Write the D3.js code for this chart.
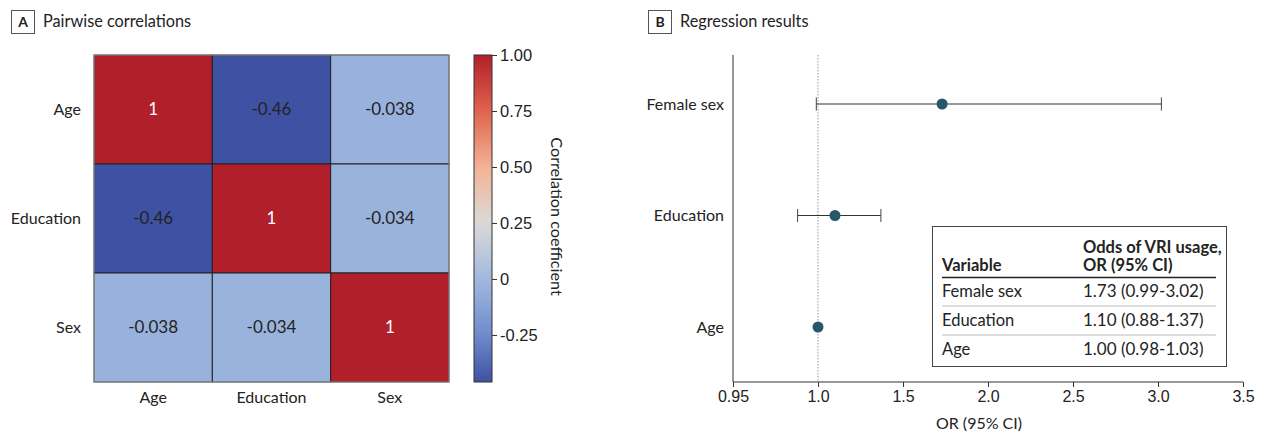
<!DOCTYPE html>
<html>
<head>
<meta charset="utf-8">
<script src="https://cdn.jsdelivr.net/npm/d3@7"></script>
<style>
  body { margin: 0; background: #fff; }
  svg { font-family: Lato, "Open Sans", sans-serif; }
  text { fill: #232323; }
</style>
</head>
<body>
<div id="chart"></div>
<script>
// ---- datos ----
const variables = ["Age", "Education", "Sex"];
const corr = [
  [1, -0.46, -0.038],
  [-0.46, 1, -0.034],
  [-0.038, -0.034, 1]
];
const corrLabels = [
  ["1", "-0.46", "-0.038"],
  ["-0.46", "1", "-0.034"],
  ["-0.038", "-0.034", "1"]
];
const legendTicks = [1, 0.75, 0.5, 0.25, 0, -0.25];
const legendTickLabels = ["1.00", "0.75", "0.50", "0.25", "0", "-0.25"];

const predictors = ["Female sex", "Education", "Age"];
const oddsRatio = [1.73, 1.10, 1.00];
const ciLow = [0.99, 0.88, 0.98];
const ciHigh = [3.02, 1.37, 1.03];
const xTicks = [0.5, 1.0, 1.5, 2.0, 2.5, 3.0, 3.5];
const xTickLabels = ["0.95", "1.0", "1.5", "2.0", "2.5", "3.0", "3.5"];

const W = 1262, H = 434;
const svg = d3.select("#chart").append("svg").attr("width", W).attr("height", H);

// ---- etiquetas de panel ----
function panelTitle(x, letter, title) {
  svg.append("rect").attr("x", x + 0.5).attr("y", 10.5).attr("width", 23).attr("height", 23)
    .attr("fill", "none").attr("stroke", "#555");
  svg.append("text").attr("x", x + 12).attr("y", 27).attr("text-anchor", "middle")
    .attr("font-size", 14).attr("font-weight", "bold").text(letter);
  svg.append("text").attr("x", x + 32).attr("y", 27).attr("font-size", 16.3).text(title);
}
panelTitle(11, "A", "Pairwise correlations");
panelTitle(648, "B", "Regression results");

// ============ A: mapa de calor ============
const hm = { left: 94, right: 449, top: 55, bottom: 382 };
const xb = d3.scaleBand().domain(variables).range([hm.left, hm.right]);
const yb = d3.scaleBand().domain(variables).range([hm.top, hm.bottom]);
const color = d3.scaleLinear()
  .domain([-0.46, -0.25, 0, 0.25, 0.5, 0.75, 1])
  .range(["#3f51a3", "#6f8bcb", "#a1b9e0", "#dcdad8", "#f2b396", "#e0644c", "#b11f2a"])
  .clamp(true);

const cells = [];
variables.forEach((r, i) => variables.forEach((c, j) => cells.push({ r, c, v: corr[i][j], lab: corrLabels[i][j] })));

const gHm = svg.append("g");
gHm.selectAll("rect").data(cells).join("rect")
  .attr("x", d => xb(d.c)).attr("y", d => yb(d.r))
  .attr("width", xb.bandwidth()).attr("height", yb.bandwidth())
  .attr("fill", d => color(d.v)).attr("stroke", "#222").attr("stroke-width", 1);
gHm.selectAll("text").data(cells).join("text")
  .attr("x", d => xb(d.c) + xb.bandwidth() / 2).attr("y", d => yb(d.r) + yb.bandwidth() / 2)
  .attr("dy", "0.35em").attr("text-anchor", "middle").attr("font-size", 17)
  .style("fill", d => d.v > 0.7 ? "#fff" : "#222").text(d => d.lab);
gHm.append("rect").attr("x", hm.left).attr("y", hm.top).attr("width", hm.right - hm.left)
  .attr("height", hm.bottom - hm.top).attr("fill", "none").attr("stroke", "#999").attr("stroke-width", 1);

svg.append("g").selectAll("text").data(variables).join("text")
  .attr("x", 81).attr("y", d => yb(d) + yb.bandwidth() / 2).attr("dy", "0.35em")
  .attr("text-anchor", "end").attr("font-size", 16).text(d => d);
svg.append("g").selectAll("text").data(variables).join("text")
  .attr("x", d => xb(d) + xb.bandwidth() / 2).attr("y", 403)
  .attr("text-anchor", "middle").attr("font-size", 16).text(d => d);

// barra de color
const cb = { x: 474, w: 18, top: 55, bottom: 382 };
const cScale = d3.scaleLinear().domain([-0.46, 1]).range([cb.bottom, cb.top]);
const defs = svg.append("defs");
const grad = defs.append("linearGradient").attr("id", "cbar").attr("x1", 0).attr("y1", 1).attr("x2", 0).attr("y2", 0);
d3.range(0, 1.0001, 0.05).forEach(t => {
  grad.append("stop").attr("offset", t).attr("stop-color", color(-0.46 + t * 1.46));
});
svg.append("rect").attr("x", cb.x).attr("y", cb.top).attr("width", cb.w).attr("height", cb.bottom - cb.top)
  .attr("fill", "url(#cbar)").attr("stroke", "#333");
const cAxis = svg.append("g").attr("transform", `translate(${cb.x + cb.w},0)`)
  .call(d3.axisRight(cScale).tickValues(legendTicks).tickSize(5).tickPadding(3)
    .tickFormat((d, i) => legendTickLabels[i]));
cAxis.select(".domain").remove();
cAxis.selectAll("line").attr("stroke", "#333");
cAxis.selectAll("text").attr("font-size", 16.5).attr("font-family", null).style("fill", "#232323");
svg.append("text").attr("transform", `translate(551,${(cb.top + cb.bottom) / 2 - 2}) rotate(90)`)
  .attr("text-anchor", "middle").attr("font-size", 16.2).text("Correlation coefficient");

// ============ B: forest plot ============
const fp = { left: 733, right: 1243, top: 55, bottom: 382 };
const x = d3.scaleLinear().domain([0.5, 3.5]).range([fp.left, fp.right]);
const y = d3.scalePoint().domain(predictors).range([fp.top - 3.4, fp.bottom - 2.6]).padding(0.47);

const xAxis = svg.append("g").attr("transform", `translate(0,${fp.bottom})`)
  .call(d3.axisBottom(x).tickValues(xTicks).tickSize(5).tickPadding(4)
    .tickFormat((d, i) => xTickLabels[i]));
xAxis.select(".domain").attr("stroke", "#333").attr("d", `M${fp.left},0H${fp.right}`);
xAxis.selectAll("line").attr("stroke", "#333");
xAxis.selectAll("text").attr("font-size", 16).attr("font-family", null).style("fill", "#232323");
svg.append("line").attr("x1", fp.left).attr("x2", fp.left).attr("y1", fp.top).attr("y2", fp.bottom)
  .attr("stroke", "#333");
svg.append("text").attr("x", 979).attr("y", 429).attr("text-anchor", "middle")
  .attr("font-size", 16).text("OR (95% CI)");

svg.append("g").selectAll("text").data(predictors).join("text")
  .attr("x", 724).attr("y", d => y(d)).attr("dy", "0.35em").attr("text-anchor", "end")
  .attr("font-size", 16).text(d => d);

svg.append("line").attr("x1", x(1)).attr("x2", x(1)).attr("y1", fp.top).attr("y2", fp.bottom)
  .attr("stroke", "#999").attr("stroke-dasharray", "1.5,1.5");

const R = 5.5;
const rows = predictors.map((p, i) => ({ p, or: oddsRatio[i], lo: ciLow[i], hi: ciHigh[i] }));
// intervalos más cortos que el punto quedan ocultos bajo él
const visible = rows.filter(d => x(d.hi) - x(d.lo) > 3 * R);
const gF = svg.append("g");
gF.selectAll(".ci").data(visible).join("line")
  .attr("x1", d => x(d.lo)).attr("x2", d => x(d.hi)).attr("y1", d => y(d.p)).attr("y2", d => y(d.p))
  .attr("stroke", "#333");
gF.selectAll(".capL").data(visible).join("line")
  .attr("x1", d => x(d.lo)).attr("x2", d => x(d.lo)).attr("y1", d => y(d.p) - 6.5).attr("y2", d => y(d.p) + 6.5)
  .attr("stroke", "#444");
gF.selectAll(".capR").data(visible).join("line")
  .attr("x1", d => x(d.hi)).attr("x2", d => x(d.hi)).attr("y1", d => y(d.p) - 6.5).attr("y2", d => y(d.p) + 6.5)
  .attr("stroke", "#444");
gF.selectAll("circle").data(rows).join("circle")
  .attr("cx", d => x(d.or)).attr("cy", d => y(d.p)).attr("r", R).attr("fill", "#285767");

// tabla
const tb = { x: 932, y: 226, w: 294, h: 140 };
svg.append("rect").attr("x", tb.x + 0.5).attr("y", tb.y + 0.5).attr("width", tb.w).attr("height", tb.h)
  .attr("fill", "#fff").attr("stroke", "#444");
const c1 = 942, c2 = 1083;
svg.append("text").attr("x", c2).attr("y", 253).attr("font-size", 16.5).attr("font-weight", "bold").text("Odds of VRI usage,");
svg.append("text").attr("x", c2).attr("y", 271).attr("font-size", 16.5).attr("font-weight", "bold").text("OR (95% CI)");
svg.append("text").attr("x", c1).attr("y", 271).attr("font-size", 16.5).attr("font-weight", "bold").text("Variable");
svg.append("line").attr("x1", 942).attr("x2", 1216).attr("y1", 277.5).attr("y2", 277.5).attr("stroke", "#222").attr("stroke-width", 1.5);
const rowY = d3.scaleBand().domain(predictors).range([277, 364]);
const fmt = d3.format(".2f");
svg.append("g").selectAll("text").data(rows).join("text")
  .attr("x", c1).attr("y", d => rowY(d.p) + rowY.bandwidth() / 2).attr("dy", "0.35em")
  .attr("font-size", 16.5).text(d => d.p);
svg.append("g").selectAll("text").data(rows).join("text")
  .attr("x", c2).attr("y", d => rowY(d.p) + rowY.bandwidth() / 2).attr("dy", "0.35em")
  .attr("font-size", 17).text(d => `${fmt(d.or)} (${fmt(d.lo)}-${fmt(d.hi)})`);
svg.append("g").selectAll("line").data(predictors.slice(1)).join("line")
  .attr("x1", 942).attr("x2", 1216).attr("y1", d => rowY(d)).attr("y2", d => rowY(d))
  .attr("stroke", "#bbb");
</script>
</body>
</html>
